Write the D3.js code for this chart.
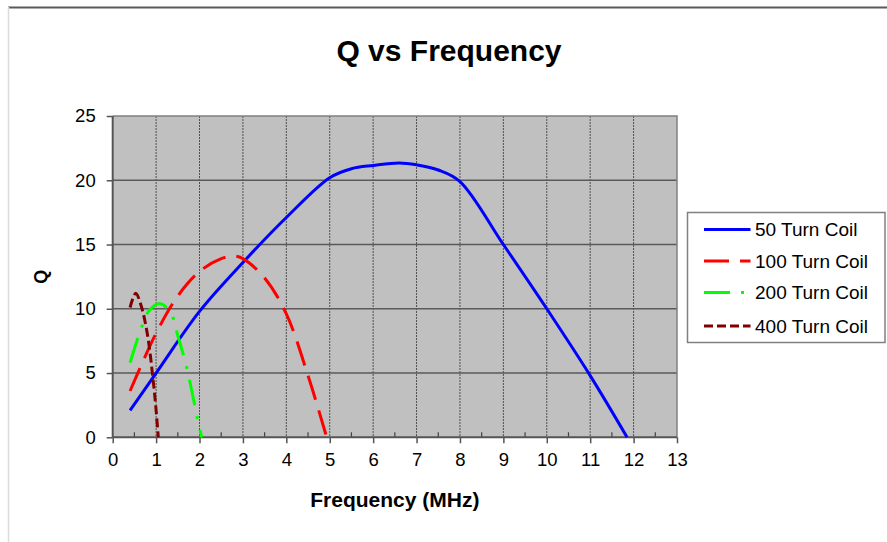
<!DOCTYPE html>
<html>
<head>
<meta charset="utf-8">
<script src="https://cdn.jsdelivr.net/npm/d3@7"></script>
<style>
  html, body { margin: 0; padding: 0; background: #fff; }
  svg { display: block; font-family: "Liberation Sans", Arial, sans-serif; }
</style>
</head>
<body>
<svg id="chart" width="887" height="542"></svg>
<script>
// Q measured against frequency for four coil windings
const xTicks = [0, 1, 2, 3, 4, 5, 6, 7, 8, 9, 10, 11, 12, 13];
const yTicks = [0, 5, 10, 15, 20, 25];

const freq50 = [0.4, 1, 2, 3, 4, 5, 5.5, 6, 6.6, 7, 7.5, 8, 9, 10, 11, 11.85];
const q50    = [2.1, 5, 9.8, 13.6, 17.1, 20.2, 20.9, 21.15, 21.35, 21.2, 20.8, 19.9, 15, 10, 4.8, 0];

const freq100 = [0.4, 1, 1.5, 2, 2.5, 2.8, 3, 3.5, 4, 4.5, 4.93];
const q100    = [3.6, 8.1, 11.0, 12.9, 13.9, 14.1, 13.9, 12.4, 9.6, 4.8, 0];

const freq200 = [0.4, 0.67, 0.85, 1.1, 1.35, 1.5, 1.7, 1.95, 2.05];
const q200    = [5.8, 8.6, 9.9, 10.4, 9.6, 7.9, 5.5, 1.5, 0];

const freq400 = [0.4, 0.53, 0.65, 0.8, 0.93, 1.0, 1.05];
const q400    = [10.1, 11.2, 10.3, 8.0, 4.5, 2.1, 0];

const seriesNames = ["50 Turn Coil", "100 Turn Coil", "200 Turn Coil", "400 Turn Coil"];
const seriesX = [freq50, freq100, freq200, freq400];
const seriesY = [q50, q100, q200, q400];
const seriesColor = ["#0000ff", "#ff0000", "#00ff00", "#800000"];
const seriesDash = ["none", "25,11", "26,11,3,11", "9,4"];

const svg = d3.select("#chart");

// outer chart frame
svg.append("line").attr("x1", 8).attr("x2", 887).attr("y1", 7.5).attr("y2", 7.5)
  .attr("stroke", "#5a5a5a").attr("stroke-width", 2);
svg.append("line").attr("x1", 8.5).attr("x2", 8.5).attr("y1", 7).attr("y2", 542)
  .attr("stroke", "#dcdcdc").attr("stroke-width", 1.5);

const plot = { left: 112.7, right: 677, top: 116, bottom: 437.3 };
const x = d3.scaleLinear().domain([0, 13]).range([plot.left, plot.right]);
const y = d3.scaleLinear().domain([0, 25]).range([plot.bottom, plot.top]);

// plot background
svg.append("rect")
  .attr("x", plot.left).attr("y", plot.top)
  .attr("width", plot.right - plot.left).attr("height", plot.bottom - plot.top)
  .attr("fill", "#c0c0c0");

// vertical dotted gridlines
svg.append("g").selectAll("line")
  .data(xTicks.filter(d => d > 0 && d < 13))
  .join("line")
  .attr("x1", d => x(d)).attr("x2", d => x(d))
  .attr("y1", plot.top).attr("y2", plot.bottom)
  .attr("stroke", "#505050").attr("stroke-width", 1)
  .attr("stroke-dasharray", "2,1");

// horizontal gridlines
svg.append("g").selectAll("line")
  .data(yTicks.filter(d => d > 0 && d < 25))
  .join("line")
  .attr("x1", plot.left).attr("x2", plot.right)
  .attr("y1", d => y(d)).attr("y2", d => y(d))
  .attr("stroke", "#5a5a5a").attr("stroke-width", 1.5);

// plot border (top and right)
svg.append("path")
  .attr("d", `M${plot.left},${plot.top}H${plot.right}V${plot.bottom}`)
  .attr("fill", "none").attr("stroke", "#808080").attr("stroke-width", 1.5);

// minor x ticks at half units, pointing up into the plot
svg.append("g").selectAll("line")
  .data(d3.range(0.5, 13, 1))
  .join("line")
  .attr("x1", d => x(d)).attr("x2", d => x(d))
  .attr("y1", plot.bottom).attr("y2", plot.bottom - 5)
  .attr("stroke", "#404040").attr("stroke-width", 1.2);

// axes
const yAxis = d3.axisLeft(y).tickValues(yTicks).tickSize(6).tickPadding(11);
const gy = svg.append("g").attr("transform", `translate(${plot.left},0)`).call(yAxis);
const xAxis = d3.axisBottom(x).tickValues(xTicks).tickSize(6).tickPadding(10);
const gx = svg.append("g").attr("transform", `translate(0,${plot.bottom})`).call(xAxis);

[gx, gy].forEach(g => {
  g.select(".domain").attr("stroke", "#555").attr("stroke-width", 2);
  g.selectAll(".tick line").attr("stroke", "#555").attr("stroke-width", 1.5);
  g.selectAll(".tick text")
    .attr("fill", "#000")
    .attr("font-family", "'Liberation Sans', Arial, sans-serif")
    .attr("font-size", 18.5);
});
gx.select(".domain").attr("d", `M${plot.left},0H${plot.right}`);
gy.select(".domain").attr("d", `M0,${plot.top}V${plot.bottom}`);

// series lines
const line = d3.line()
  .x(d => x(d[0])).y(d => y(d[1]))
  .curve(d3.curveCatmullRom.alpha(0.5));

seriesNames.forEach((name, i) => {
  const pts = seriesX[i].map((f, j) => [f, seriesY[i][j]]);
  svg.append("path")
    .datum(pts)
    .attr("d", line)
    .attr("fill", "none")
    .attr("stroke", seriesColor[i])
    .attr("stroke-width", 3)
    .attr("stroke-dasharray", seriesDash[i]);
});

// title and axis titles
svg.append("text")
  .attr("x", 449).attr("y", 61)
  .attr("text-anchor", "middle")
  .attr("font-size", 30).attr("font-weight", "bold")
  .text("Q vs Frequency");

svg.append("text")
  .attr("x", (plot.left + plot.right) / 2).attr("y", 507)
  .attr("text-anchor", "middle")
  .attr("font-size", 21).attr("font-weight", "bold")
  .text("Frequency (MHz)");

svg.append("text")
  .attr("transform", `translate(47,${(plot.top + plot.bottom) / 2}) rotate(-90)`)
  .attr("text-anchor", "middle")
  .attr("font-size", 18).attr("font-weight", "bold")
  .text("Q");

// legend
const legend = svg.append("g").attr("transform", "translate(687.5,212.5)");
legend.append("rect")
  .attr("width", 197.5).attr("height", 130)
  .attr("fill", "#fff").attr("stroke", "#808080").attr("stroke-width", 1.5);

const rowY = [17, 48.5, 80, 113.5];
seriesNames.forEach((name, i) => {
  const row = legend.append("g").attr("transform", `translate(0,${rowY[i]})`);
  row.append("line")
    .attr("x1", 16.5).attr("x2", 63)
    .attr("stroke", seriesColor[i]).attr("stroke-width", 3)
    .attr("stroke-dasharray", seriesDash[i]);
  row.append("text")
    .attr("x", 67.5).attr("y", 0).attr("dy", "0.35em")
    .attr("font-size", 19)
    .text(name);
});
</script>
</body>
</html>
